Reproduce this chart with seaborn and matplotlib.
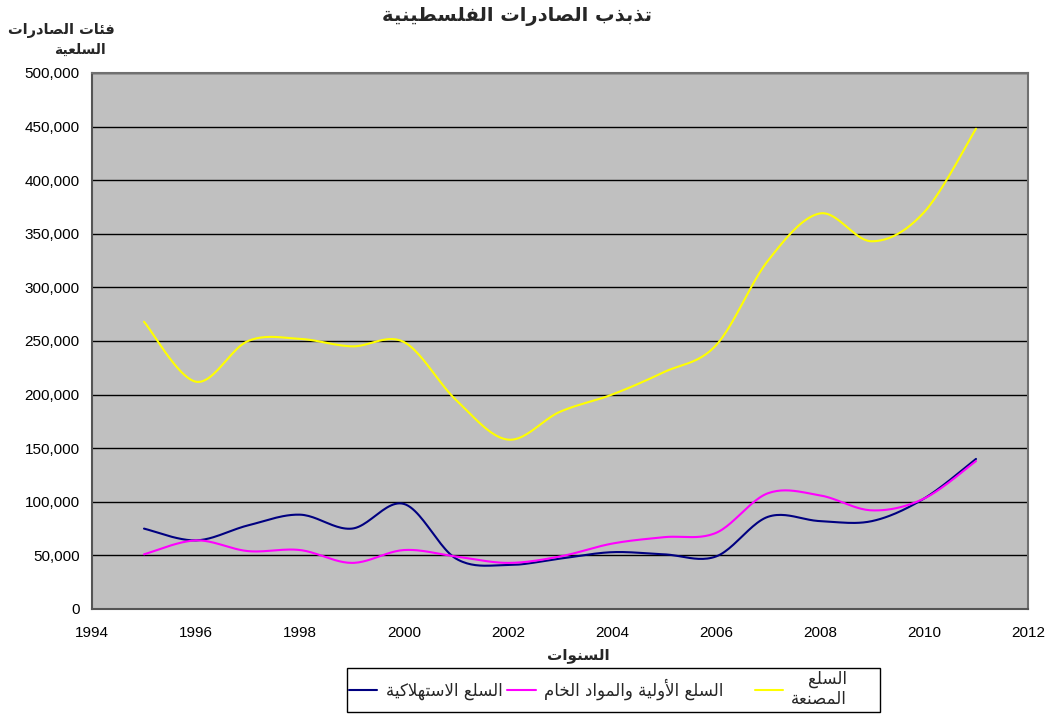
import numpy as np
import pandas as pd
import matplotlib
matplotlib.use("Agg")
import matplotlib.pyplot as plt
import seaborn as sns
from matplotlib.ticker import StrMethodFormatter
from matplotlib.patches import Rectangle

# ---------------- data ----------------
years = [1995, 1996, 1997, 1998, 1999, 2000, 2001, 2002, 2003, 2004, 2005, 2006,
         2007, 2008, 2009, 2010, 2011]
consumer_goods = [75000, 64000, 78000, 88000, 75000, 98000, 47000, 41000, 47000, 53000,
                  51000, 49000, 86000, 82000, 82000, 103000, 140000]
raw_materials = [51000, 64000, 54000, 55000, 43000, 55000, 49000, 43000, 49000, 61000,
                 67000, 71000, 108000, 106000, 92000, 103000, 138000]
manufactured = [268000, 212000, 250000, 252000, 245000, 249000, 195000, 158000, 184000,
                200000, 221000, 246000, 325000, 369000, 343000, 370000, 448000]

title_txt = "تذبذب الصادرات الفلسطينية"
ylabel_l1 = "فئات الصادرات"
ylabel_l2 = "السلعية"
xlabel_txt = "السنوات"
lbl_consumer = "السلع الاستهلاكية"
lbl_raw = "السلع الأولية والمواد الخام"
lbl_manuf_1 = "السلع"
lbl_manuf_2 = "المصنعة"

# ---------------- Arabic shaping (presentation forms + visual order) -------------
FORMS = {
    'ا': (0xFE8D, 0xFE8E), 'أ': (0xFE83, 0xFE84), 'ة': (0xFE93, 0xFE94),
    'د': (0xFEA9, 0xFEAA), 'ذ': (0xFEAB, 0xFEAC), 'ر': (0xFEAD, 0xFEAE),
    'و': (0xFEED, 0xFEEE),
    'ب': (0xFE8F, 0xFE90, 0xFE91, 0xFE92), 'ت': (0xFE95, 0xFE96, 0xFE97, 0xFE98),
    'خ': (0xFEA5, 0xFEA6, 0xFEA7, 0xFEA8), 'س': (0xFEB1, 0xFEB2, 0xFEB3, 0xFEB4),
    'ص': (0xFEB9, 0xFEBA, 0xFEBB, 0xFEBC), 'ط': (0xFEC1, 0xFEC2, 0xFEC3, 0xFEC4),
    'ع': (0xFEC9, 0xFECA, 0xFECB, 0xFECC), 'ف': (0xFED1, 0xFED2, 0xFED3, 0xFED4),
    'ك': (0xFED9, 0xFEDA, 0xFEDB, 0xFEDC), 'ل': (0xFEDD, 0xFEDE, 0xFEDF, 0xFEE0),
    'م': (0xFEE1, 0xFEE2, 0xFEE3, 0xFEE4), 'ن': (0xFEE5, 0xFEE6, 0xFEE7, 0xFEE8),
    'ه': (0xFEE9, 0xFEEA, 0xFEEB, 0xFEEC), 'ي': (0xFEF1, 0xFEF2, 0xFEF3, 0xFEF4),
    'ئ': (0xFE89, 0xFE8A, 0xFE8B, 0xFE8C),
}
LAMALEF = {'ا': (0xFEFB, 0xFEFC), 'أ': (0xFEF7, 0xFEF8)}


def shape(text):
    toks = []
    i = 0
    while i < len(text):
        c = text[i]
        if c == 'ل' and i + 1 < len(text) and text[i + 1] in LAMALEF:
            toks.append(('LA', text[i + 1]))
            i += 2
        else:
            toks.append(('C', c))
            i += 1

    def joins_next(tok):
        return tok[0] == 'C' and tok[1] in FORMS and len(FORMS[tok[1]]) == 4

    def joining(tok):
        return tok[0] == 'LA' or tok[1] in FORMS

    out = []
    for k, tok in enumerate(toks):
        prev_ok = k > 0 and joins_next(toks[k - 1]) and joining(tok)
        if tok[0] == 'LA':
            out.append(chr(LAMALEF[tok[1]][1 if prev_ok else 0]))
            continue
        c = tok[1]
        if c not in FORMS:
            out.append(c)
            continue
        f = FORMS[c]
        next_ok = len(f) == 4 and k + 1 < len(toks) and joining(toks[k + 1])
        if len(f) == 2:
            out.append(chr(f[1] if prev_ok else f[0]))
        else:
            if prev_ok and next_ok:
                out.append(chr(f[3]))
            elif prev_ok:
                out.append(chr(f[1]))
            elif next_ok:
                out.append(chr(f[2]))
            else:
                out.append(chr(f[0]))
    return "".join(out)[::-1]


# ---------------- smoothing like spreadsheet "smoothed line" -------------
def smooth(x, y, n=24):
    P = np.column_stack([x, y]).astype(float)
    E = np.vstack([P[0], P, P[-1]])
    t = np.linspace(0, 1, n, endpoint=False)[:, None]
    segs = []
    for i in range(len(P) - 1):
        p0, p1 = E[i + 1], E[i + 2]
        c1 = p0 + (E[i + 2] - E[i]) / 6.0
        c2 = p1 - (E[i + 3] - E[i + 1]) / 6.0
        segs.append((1 - t) ** 3 * p0 + 3 * (1 - t) ** 2 * t * c1
                    + 3 * (1 - t) * t ** 2 * c2 + t ** 3 * p1)
    segs.append(P[-1:])
    return np.vstack(segs)


series = [("consumer", consumer_goods, "#000080"),
          ("raw", raw_materials, "#FF00FF"),
          ("manuf", manufactured, "#FFFF00")]

frames = []
for name, vals, _ in series:
    s = smooth(years, vals)
    frames.append(pd.DataFrame({"year": s[:, 0], "value": s[:, 1], "series": name}))
df = pd.concat(frames, ignore_index=True)

# ---------------- plotting ----------------
sns.set_theme(style="white")
plt.rcParams['font.family'] = ['Liberation Sans', 'DejaVu Sans']

fig = plt.figure(figsize=(10.47, 7.15), dpi=100)
ax = fig.add_axes([92 / 1047, 1 - 609 / 715, 936 / 1047, 536 / 715])
ax.set_facecolor("#C0C0C0")

palette = {name: col for name, _, col in series}
sns.lineplot(data=df, x="year", y="value", hue="series", palette=palette,
             sort=False, estimator=None, legend=False, linewidth=1.5, ax=ax)

ax.set_xlim(1994, 2012)
ax.set_ylim(0, 500000)
ax.set_xticks(np.arange(1994, 2013, 2))
ax.set_yticks(np.arange(0, 500001, 50000))
ax.yaxis.set_major_formatter(StrMethodFormatter("{x:,.0f}"))
ax.yaxis.grid(True, color="black", linewidth=1.0)
ax.xaxis.grid(False)
ax.set_axisbelow(True)
for sp in ax.spines.values():
    sp.set_color("#707070")
    sp.set_linewidth(1.5)
ax.spines["left"].set_color("#555555")
ax.spines["bottom"].set_color("#555555")
ax.tick_params(axis="both", direction="out", length=4, width=1, color="#404040",
               labelsize=11, labelcolor="black")
ax.tick_params(axis="y", pad=5)
ax.tick_params(axis="x", pad=8)

ax.set_xlabel(shape(xlabel_txt), fontsize=11, fontweight="bold",
              family=["DejaVu Sans"])
ax.xaxis.set_label_coords((578 - 92) / 936, (609 - 648) / 536)
ax.set_ylabel("")

fig.text(517 / 1047, 1 - 17 / 715, shape(title_txt), ha="center", va="center",
         fontsize=14, fontweight="bold", family=["DejaVu Sans"])
fig.text(61 / 1047, 1 - 30 / 715, shape(ylabel_l1), ha="center", va="center",
         fontsize=10.5, fontweight="bold", family=["DejaVu Sans"])
fig.text(80 / 1047, 1 - 50 / 715, shape(ylabel_l2), ha="center", va="center",
         fontsize=10, fontweight="bold", family=["DejaVu Sans"])

# legend
lines = ax.get_lines()
handles = lines[:3]
labels = [shape(lbl_consumer), shape(lbl_raw) + "     ",
          shape(lbl_manuf_1) + "\n" + shape(lbl_manuf_2)]
leg = fig.legend(handles, labels, loc="center left",
                 bbox_to_anchor=(349 / 1047, 1 - 689 / 715), ncol=3, frameon=False,
                 handlelength=1.7, handletextpad=0.5,
                 columnspacing=0.3, borderpad=0, borderaxespad=0,
                 prop={"family": ["DejaVu Sans"], "size": 12})
frame = Rectangle((347 / 1047, 1 - 712 / 715), (880 - 347) / 1047, 44 / 715,
                  transform=fig.transFigure, fill=False, edgecolor="black",
                  linewidth=1.0)
fig.add_artist(frame)
texts = leg.get_texts()
texts[2].set_linespacing(1.1)
texts[2].set_multialignment("right")

fig.savefig("out.png", dpi=100, facecolor="white")
